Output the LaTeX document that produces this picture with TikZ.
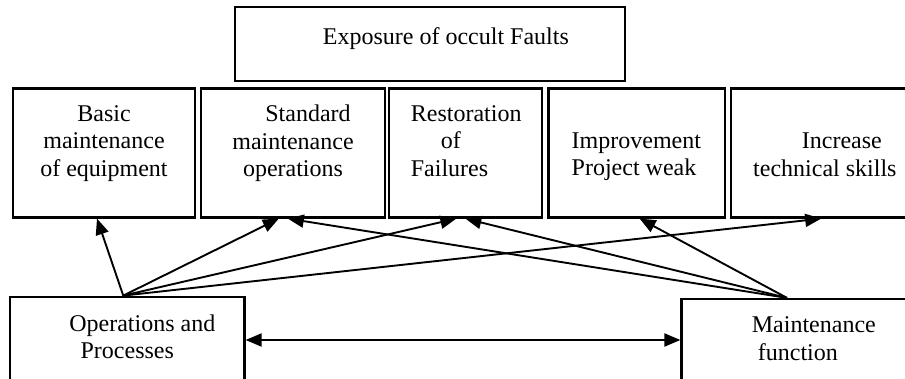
\documentclass[tikz,border=0pt]{standalone}
\usepackage{fontspec}
\setmainfont{Liberation Serif}
\usetikzlibrary{arrows.meta,positioning}

\begin{document}
\begin{tikzpicture}[x=1pt, y=-1pt, >={Triangle[length=16pt,width=13pt]},
  cell/.style={draw, line width=2.2pt, inner sep=0pt, minimum height=129pt},
  txt/.style={inner sep=0pt, font=\fontsize{24}{27.5}\selectfont},
  link/.style={->, line width=1.9pt}]

\useasboundingbox (0,0) rectangle (905,378);

% top box
\node[cell, minimum width=390pt, minimum height=74pt] (fault) at (430,44) {};
\node[txt, anchor=base west] (faultTxt) at (322.7,44) {Exposure of occult Faults};

% the five pillars
\node[cell, minimum width=182pt]                          (basic)    at (104,153) {};
\node[cell, minimum width=184pt, right=3.6pt of basic]      (standard) {};
\node[cell, minimum width=153.5pt, right=1.6pt of standard] (restore)  {};
\node[cell, minimum width=176.5pt, right=4.1pt of restore] (improve) {};
\node[cell, minimum width=184pt, right=4.1pt of improve]  (skills)   {};

\node[txt, align=center, anchor=north] (basicTxt) at (104,105.1) {Basic\\maintenance\\of equipment};
\node[txt, align=center, anchor=north] (standardTxt) at (293,105.1) {\hspace*{30pt}Standard\\maintenance\\operations};
\node[txt, align=left, anchor=north west] (restoreTxt) at (410.7,105.1) {Restoration\\\hspace*{30pt}of\\Failures};
\node[txt, align=left, anchor=north west] (improveTxt) at (571.5,132.1) {Improvement\\Project weak};
\node[txt, align=left, anchor=north west] (skillsTxt) at (753,132.6) {\hspace*{48.7pt}Increase\\technical skills};

% bottom boxes
\node[cell, minimum width=234.5pt, minimum height=86.6pt] (ops)   at (127.25,340) {};
\node[cell, minimum width=240pt, minimum height=82pt]     (maint) at (801.5,340)  {};
\node[txt, align=center, anchor=north] (opsTxt) at (127.3,314.6) {\hspace*{30pt}Operations and\\Processes};
\node[txt, align=left, anchor=north west] (maintTxt) at (751.7,316.9) {Maintenance\\\hspace*{6pt}function};

\coordinate (opsTop)   at ([xshift=-4pt]ops.north);
\coordinate (maintTop) at ([xshift=-14.5pt]maint.north);

% links
\draw[link] (opsTop) -- ([xshift=-7pt]basic.south);
\draw[link] (opsTop) -- ([xshift=-14pt]standard.south);
\draw[link] (opsTop) -- ([xshift=-9pt]restore.south);
\draw[link] (opsTop) -- ([xshift=-2pt]skills.south);
\draw[link] (maintTop) -- ([xshift=-5pt]standard.south);
\draw[link] (maintTop) -- (restore.south);
\draw[link] (maintTop) -- ([xshift=3pt]improve.south);
\draw[link, <->] (ops) -- (maint);
\end{tikzpicture}
\end{document}
